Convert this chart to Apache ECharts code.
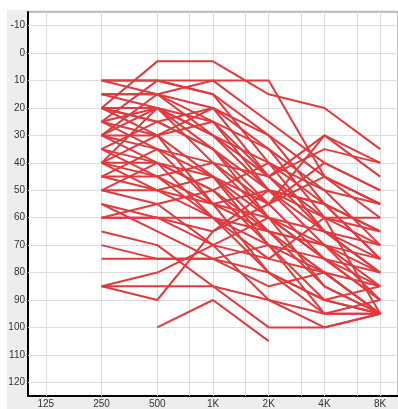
<!DOCTYPE html>
<html>
<head>
<meta charset="utf-8">
<script src="https://cdn.jsdelivr.net/npm/echarts@6/dist/echarts.min.js"></script>
<style>
  html, body { margin: 0; padding: 0; background: #ffffff; }
  #chart { width: 398px; height: 409px; }
</style>
</head>
<body>
<div id="chart"></div>
<script>
// Test frequencies (Hz) and their tick labels
const frequencies = [125, 250, 500, 1000, 2000, 4000, 8000];
const freqLabels = ['125', '250', '500', '1K', '2K', '4K', '8K'];
// Inter-octave frequencies that get a grid line but no label
const halfOctaves = [750, 1500, 3000, 6000];
// Hearing level ticks (dB HL)
const levelTicks = [-10, 0, 10, 20, 30, 40, 50, 60, 70, 80, 90, 100, 110, 120];

// Frequencies measured in each audiogram
const measured = [250, 500, 1000, 2000, 4000, 8000];

// Thresholds per audiogram (dB HL) at 250, 500, 1K, 2K, 4K, 8K
const aud01 = [20, 3, 3, 15, 20, 35];
const aud02 = [10, 10, 10, 10, 45, 60];
const aud03 = [10, 10, 15, 30, 55, 75];
const aud04 = [15, 15, 10, 25, 40, 50];
const aud05 = [15, 15, 20, 35, 60, 95];
const aud06 = [20, 25, 20, 45, 30, 40];
const aud07 = [25, 10, 15, 40, 50, 70];
const aud08 = [25, 20, 30, 40, 65, 80];
const aud09 = [30, 15, 25, 35, 50, 55];
const aud10 = [30, 30, 25, 50, 70, 85];
const aud11 = [20, 30, 45, 60, 70, 75];
const aud12 = [30, 35, 40, 55, 30, 45];
const aud13 = [35, 25, 35, 50, 55, 65];
const aud14 = [35, 40, 50, 65, 80, 95];
const aud15 = [40, 30, 20, 30, 45, 55];
const aud16 = [40, 45, 55, 60, 75, 90];
const aud17 = [40, 20, 35, 60, 85, 95];
const aud18 = [45, 45, 40, 45, 60, 60];
const aud19 = [45, 50, 60, 70, 90, 95];
const aud20 = [50, 50, 55, 50, 65, 80];
const aud21 = [50, 40, 45, 70, 95, 95];
const aud22 = [55, 60, 70, 75, 60, 70];
const aud23 = [60, 60, 60, 65, 85, 95];
const aud24 = [60, 60, 65, 55, 40, 50];
const aud25 = [70, 75, 75, 80, 90, 85];
const aud26 = [75, 75, 75, 70, 75, 90];
const aud27 = [85, 80, 70, 60, 65, 75];
const aud28 = [85, 90, 65, 50, 55, 65];
const aud29 = [85, 85, 85, 90, 100, 95];
const aud30 = [null, 100, 90, 105, null, null];
const aud31 = [65, 70, 85, 100, 100, 95];
const aud32 = [25, 35, 45, 55, 75, 80];
const aud33 = [35, 45, 60, 75, 80, 85];
const aud34 = [10, 15, 30, 45, 35, 40];
const aud35 = [30, 20, 25, 45, 65, 70];
const aud36 = [20, 25, 35, 55, 45, 55];
const aud37 = [45, 35, 55, 80, 90, 95];
const aud38 = [40, 40, 50, 40, 55, 75];
const aud39 = [25, 30, 55, 65, 70, 90];
const aud40 = [55, 65, 75, 85, 80, 95];
const aud41 = [15, 20, 40, 60, 75, 85];
const aud42 = [30, 40, 60, 80, 95, 95];
const aud43 = [40, 50, 45, 65, 70, 80];
const aud44 = [50, 55, 70, 90, 95, 90];
const aud45 = [20, 20, 30, 50, 60, 65];
const aud46 = [60, 55, 50, 70, 80, 95];

const audiograms = [aud01, aud02, aud03, aud04, aud05, aud06, aud07, aud08, aud09, aud10,
  aud11, aud12, aud13, aud14, aud15, aud16, aud17, aud18, aud19, aud20,
  aud21, aud22, aud23, aud24, aud25, aud26, aud27, aud28, aud29, aud30,
  aud31, aud32, aud33, aud34, aud35, aud36, aud37, aud38, aud39, aud40,
  aud41, aud42, aud43, aud44, aud45, aud46];

// Octaves above 125 Hz place frequencies on an evenly spaced axis
const oct = f => Math.log2(f / 125);

// Background grid drawn as mark lines kept underneath the audiograms
const gridLines = {
  type: 'line',
  data: [],
  z: 1,
  silent: true,
  markLine: {
    z: 1,
    silent: true,
    symbol: 'none',
    animation: false,
    label: { show: false },
    emphasis: { disabled: true },
    lineStyle: { color: '#dcdcdc', width: 1, type: 'solid' },
    data: [
      ...frequencies.map(f => ({ xAxis: oct(f) })),
      ...halfOctaves.map(f => ({ xAxis: oct(f) })),
      ...levelTicks.map(v => ({ yAxis: v }))
    ]
  }
};

const lineSeries = audiograms.map(a => ({
  type: 'line',
  z: 6,
  data: measured.map((f, i) => a[i] == null ? null : [oct(f), a[i]]).filter(p => p),
  symbol: 'none',
  lineStyle: { color: '#e03a3e', width: 2 },
  silent: true,
  animation: false
}));

const chart = echarts.init(document.getElementById('chart'));
chart.setOption({
  animation: false,
  backgroundColor: '#ffffff',
  graphic: [{
    type: 'rect',
    z: -10,
    shape: { x: 7, y: 10, width: 391, height: 399 },
    style: { fill: '#ededed' }
  }],
  grid: {
    left: 28, top: 12, right: 0, bottom: 12,
    show: true,
    backgroundColor: '#ffffff',
    borderColor: '#8a8a8a',
    borderWidth: 1
  },
  xAxis: {
    type: 'value',
    min: -0.32,
    max: 6.32,
    axisLine: { show: true, onZero: false, lineStyle: { color: '#000000', width: 2 } },
    axisTick: { show: false },
    splitLine: { show: false },
    axisLabel: {
      customValues: frequencies.map(oct),
      formatter: v => freqLabels[Math.round(v)],
      color: '#333333',
      fontFamily: 'Liberation Sans',
      fontSize: 10,
      margin: 3
    }
  },
  yAxis: {
    type: 'value',
    inverse: true,
    min: -15,
    max: 125,
    axisLine: { show: true, onZero: false, lineStyle: { color: '#000000', width: 2 } },
    axisTick: { show: false },
    splitLine: { show: false },
    axisLabel: {
      customValues: levelTicks,
      color: '#333333',
      fontFamily: 'Liberation Sans',
      fontSize: 10,
      margin: 3
    }
  },
  series: [gridLines, ...lineSeries]
});
</script>
</body>
</html>
